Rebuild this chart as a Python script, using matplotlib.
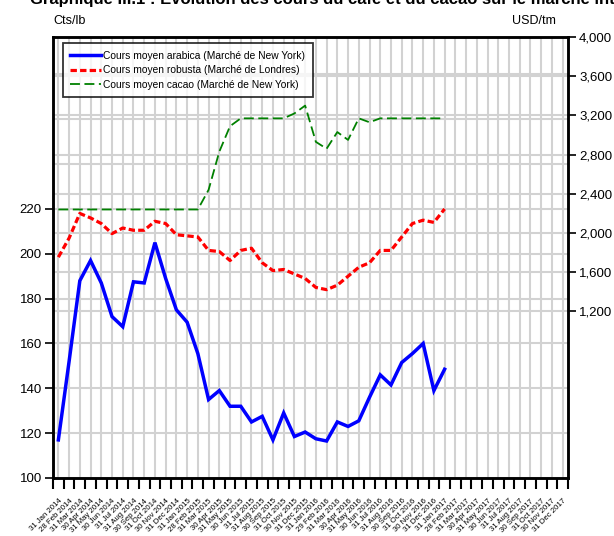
import matplotlib
matplotlib.use("Agg")
import matplotlib.pyplot as plt
from matplotlib.ticker import FuncFormatter
import numpy as np
import pandas as pd

plt.rcParams['font.family'] = ['Liberation Sans', 'DejaVu Sans']

# month-end labels Jan 2014 .. Dec 2017
months = [d.strftime('%d %b %Y') for d in pd.date_range('2014-01-31', periods=48, freq='ME')]

arabica = [117, 152, 188, 197, 187, 172, 167.5, 187.5, 187, 205, 189, 175, 169.5,
           155.5, 135, 139, 132, 132, 125, 127.5, 117, 129, 118.5, 120.5, 117.5,
           116.5, 125, 123, 125.5, 136, 146, 141.5, 151.5, 155.5, 160, 139, 148.5]
robusta = [198.5, 207, 218, 216, 213.5, 209, 211.5, 210.5, 210.5, 214.5, 213.5, 208.5,
           208, 207.5, 201.5, 201, 197, 201.5, 202.5, 196, 192.5, 193, 191, 189, 185,
           184, 186, 190, 194, 196, 201.5, 201.5, 207.5, 213.5, 215, 214, 220]
cacao = [2240, 2240, 2240, 2240, 2240, 2240, 2240, 2240, 2240, 2240, 2240, 2240, 2240,
         2240, 2440, 2830, 3090, 3170, 3170, 3170, 3170, 3170, 3220, 3300, 2930,
         2860, 3030, 2950, 3170, 3130, 3170, 3170, 3170, 3170, 3170, 3170, 3170]

left_ticks = [100, 120, 140, 160, 180, 200, 220]
right_ticks = [1200, 1600, 2000, 2400, 2800, 3200, 3600, 4000]

left_lim = (100, 296.7)
right_lim = (-500, 4000)

title = "Graphique III.1 : Evolution des cours du café et du cacao sur le marché international"

fig = plt.figure(figsize=(6.14, 5.36), dpi=100)
ax = fig.add_axes([53/614, 58/536, 515/614, 441/536])
ax2 = ax.twinx()

x = np.arange(len(arabica))
n = len(months)
grid_c = '#d2d2d2'

# grids (drawn on the left axes, under the data)
ax.set_axisbelow(True)
for v in range(100, 300, 20):
    ax.axhline(v, color=grid_c, lw=1.5, zorder=0.5)
for v in right_ticks:
    pos = left_lim[0] + (v - right_lim[0]) / (right_lim[1] - right_lim[0]) * (left_lim[1] - left_lim[0])
    ax.axhline(pos, color=grid_c, lw=1.5, zorder=0.5)
for i in range(n):
    ax.axvline(i, color=grid_c, lw=1.5, zorder=0.5)

l1, = ax.plot(x, arabica, color='#0000ff', lw=2.5, solid_joinstyle='miter',
              label='Cours moyen arabica (Marché de New York)')
l2, = ax.plot(x, robusta, color='#ff0000', lw=2.3, linestyle=(0, (2, 1)),
              label='Cours moyen robusta (Marché de Londres)')
l3, = ax2.plot(x, cacao, color='#008000', lw=1.3, linestyle=(0, (5.5, 2.5)),
               label='Cours moyen cacao (Marché de New York)')

ax.set_xlim(-0.5, n - 0.5)
ax.set_ylim(*left_lim)
ax2.set_ylim(*right_lim)

ax.set_yticks(left_ticks)
ax2.set_yticks(right_ticks)
ax2.yaxis.set_major_formatter(FuncFormatter(lambda v, p: f"{int(v):,}"))

ax.set_xticks(range(n))
ax.set_xticklabels(months, rotation=45, ha='right', rotation_mode='anchor', fontsize=5.6)
ax.set_xticks(np.arange(-0.5, n), minor=True)
ax.tick_params(axis='x', which='major', length=0, pad=14)
ax.tick_params(axis='x', which='minor', length=8, width=1.5, direction='out')
ax.tick_params(axis='y', length=6, width=1.2, labelsize=9.5, pad=2)
ax2.tick_params(axis='y', length=6, width=1.2, labelsize=9.5, pad=2)

for a in (ax, ax2):
    for s in a.spines.values():
        s.set_linewidth(1.8)
        s.set_color('black')

leg = ax2.legend(handles=[l1, l2, l3], loc='upper left', bbox_to_anchor=(0.019, 0.986),
                 fontsize=7.4, frameon=True, fancybox=False, borderpad=0.75,
                 labelspacing=0.42, handlelength=3.0, handletextpad=0.2,
                 borderaxespad=0)
leg.get_frame().set_edgecolor('black')
leg.get_frame().set_linewidth(1.3)

fig.text(30/614, 1 - 4/536, title, fontsize=12, fontweight='bold', va='baseline', ha='left')
fig.text(53/614, 1 - 21/536, 'Cts/lb', fontsize=9, va='center', ha='left')
fig.text(556/614, 1 - 21/536, 'USD/tm', fontsize=9, va='center', ha='right')

fig.savefig('out.png', dpi=100)
